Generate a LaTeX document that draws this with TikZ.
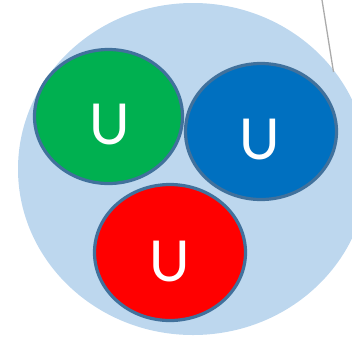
\documentclass[tikz,border=0pt]{standalone}
\usepackage{fontspec}
\setmainfont{Carlito}
\usetikzlibrary{shapes.geometric}
\definecolor{bgblue}{HTML}{BDD7EE}
\definecolor{qgreen}{HTML}{00B050}
\definecolor{qblue}{HTML}{0070C0}
\definecolor{qred}{HTML}{FF0000}
\definecolor{rim}{HTML}{41719C}
\definecolor{wire}{HTML}{ABABAB}
\tikzset{
  quark/.style={ellipse, draw=rim, line width=3.2pt, inner sep=0pt},
  flavour/.style={text=white, font=\fontsize{63}{63}\selectfont, inner sep=0pt}
}
\begin{document}
\begin{tikzpicture}[x=1pt,y=-1pt]
\useasboundingbox (0,0) rectangle (352,338);
\begin{scope}
\clip (0,0) rectangle (352,338);
\fill[bgblue] (193,169) ellipse [x radius=175, y radius=166];
\end{scope}
\coordinate (wtop) at (322,0);
\coordinate (wend) at (333.5,72);
\draw[wire, line width=1.3pt] (wtop) -- (wend);
\node[quark, fill=qgreen, minimum width=148pt, minimum height=134pt] (g) at (108.5,116.5) {};
\node[quark, fill=qblue, minimum width=151pt, minimum height=136pt] (b) at (261,131.5) {};
\node[quark, fill=qred, minimum width=151pt, minimum height=136pt] (r) at (170,252.5) {};
\node[flavour] (gu) at (109.5,125) {U};
\node[flavour] (bu) at (260,140) {U};
\node[flavour] (ru) at (169.5,262) {U};
\end{tikzpicture}
\end{document}
